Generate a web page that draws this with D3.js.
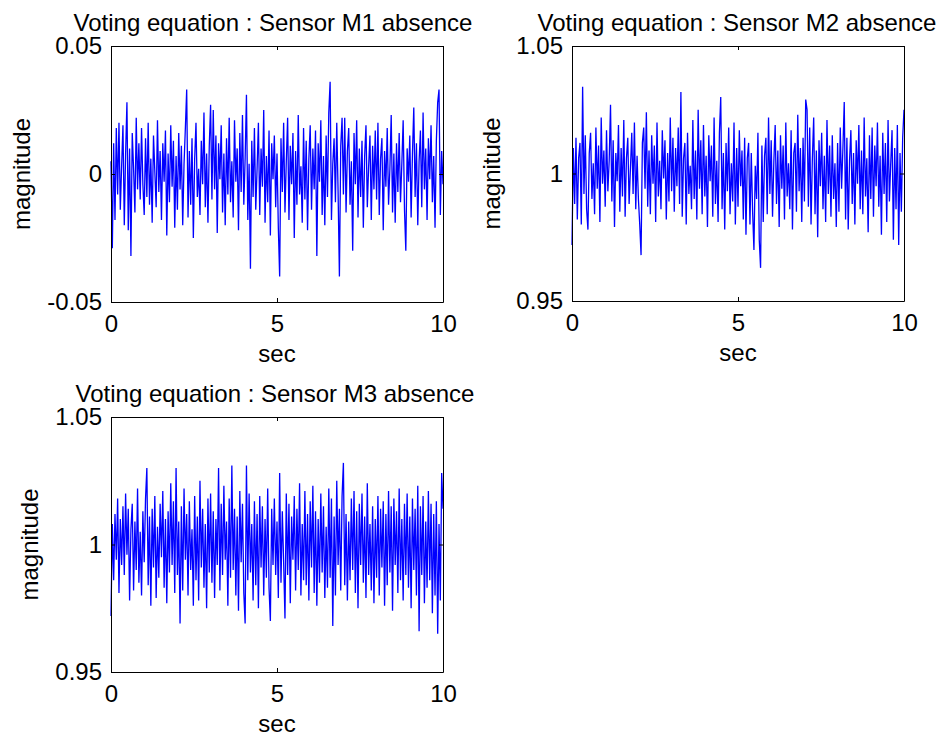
<!DOCTYPE html>
<html>
<head>
<meta charset="utf-8">
<script src="https://cdn.jsdelivr.net/npm/d3@7"></script>
<style>
body { margin: 0; background: #fff; }
svg text { font-family: "Liberation Sans", Arial, sans-serif; fill: #000; }
</style>
</head>
<body>
<div id="chart"></div>
<script>

// sampling step of the three signals, in sec
const sampleTime = 0.04;

const m1Absence = [
  0.005, -0.029, 0.012, -0.018, 0.018, -0.008, 0.020, -0.014, 0.003, 0.019, -0.020, 0.008, 0.028, -0.022, 0.010, -0.032, 0.016, 0.002, -0.015, 0.022, -0.006, 0.012, -0.010, 0.018, -0.004,
  -0.016, 0.014, -0.009, 0.020, -0.012, 0.006, -0.019, 0.015, 0.001, -0.013, 0.021, -0.007, 0.009, -0.018, 0.012, -0.003, 0.017, -0.024, 0.008, -0.011, 0.019, -0.005, 0.013, -0.021, 0.007,
  -0.014, 0.016, -0.006, 0.011, -0.020, 0.004, 0.018, 0.033, -0.017, 0.009, -0.012, 0.014, -0.025, 0.006, 0.020, -0.009, 0.002, -0.016, 0.013, -0.004, 0.024, -0.013, 0.008, -0.019, 0.011,
  0.027, -0.010, 0.025, -0.006, 0.015, -0.023, 0.012, -0.002, 0.019, -0.015, 0.008, -0.020, 0.014, -0.008, 0.022, -0.011, 0.005, -0.017, 0.021, -0.003, 0.010, -0.022, 0.016, -0.007, 0.023,
  -0.012, 0.006, 0.031, -0.018, 0.004, -0.037, 0.013, -0.009, 0.018, -0.014, 0.002, 0.020, -0.016, 0.010, -0.005, 0.025, -0.019, 0.007, -0.011, 0.017, -0.024, 0.012, -0.002, 0.015, -0.013,
  0.008, -0.021, -0.040, 0.014, -0.007, 0.020, -0.015, 0.005, 0.022, -0.018, 0.011, -0.004, 0.016, -0.025, 0.009, -0.012, 0.023, -0.008, 0.003, -0.019, 0.018, -0.010, 0.013, -0.022, 0.006,
  0.019, -0.014, 0.010, -0.006, 0.017, -0.032, 0.012, -0.003, 0.021, -0.016, 0.007, -0.020, 0.015, -0.009, 0.024, 0.036, -0.018, 0.004, 0.014, -0.011, 0.020, -0.007, -0.040, 0.011, 0.022,
  -0.008, 0.022, -0.015, 0.009, 0.018, -0.012, 0.005, -0.030, 0.016, -0.004, 0.021, -0.017, 0.010, -0.009, 0.013, -0.021, 0.007, 0.019, -0.013, 0.003, 0.015, -0.018, 0.011, -0.006, 0.017,
  -0.010, 0.020, -0.016, 0.006, 0.014, -0.022, 0.009, -0.005, 0.018, -0.012, 0.002, 0.023, -0.015, 0.008, -0.019, 0.012, -0.007, 0.016, -0.011, 0.004, 0.021, -0.014, -0.030, 0.010, -0.003,
  0.015, -0.017, 0.008, 0.026, -0.009, 0.012, -0.020, 0.005, 0.017, -0.013, 0.024, -0.006, 0.010, -0.018, 0.014, -0.002, 0.019, -0.011, 0.007, -0.021, 0.013, 0.028, 0.033, -0.016, 0.009,
  -0.004
];

const m2Absence = [
  0.972, 1.010, 0.988, 1.014, 0.982, 1.006, 1.012, 0.980, 1.034, 0.992, 1.015, 0.986, 0.978, 1.008, 1.016, 0.990, 1.004, 0.984, 1.018, 0.994, 1.011, 0.981, 1.022, 0.996, 1.009,
  0.987, 1.017, 0.993, 1.005, 1.027, 0.989, 1.013, 0.979, 1.008, 0.997, 1.019, 0.985, 1.010, 0.991, 1.021, 0.983, 1.006, 1.014, 0.988, 1.002, 1.016, 0.992, 1.020, 0.986, 1.007,
  0.990, 0.980, 0.968, 1.012, 1.018, 0.994, 1.024, 0.987, 1.009, 0.984, 1.015, 0.996, 1.011, 0.981, 1.020, 0.991, 1.005, 0.986, 1.017, 0.998, 1.013, 0.982, 1.008, 0.989, 1.022,
  0.993, 1.014, 0.985, 1.010, 0.995, 1.018, 0.988, 1.032, 0.983, 1.006, 1.012, 0.980, 1.016, 0.992, 1.003, 0.986, 1.021, 0.990, 1.009, 0.982, 1.025, 0.994, 1.013, 0.984, 1.019,
  0.991, 1.007, 0.979, 1.015, 0.997, 1.011, 0.983, 1.022, 0.988, 1.005, 0.981, 1.016, 1.030, 0.986, 1.008, 0.978, 1.012, 0.993, 1.018, 0.984, 1.004, 0.989, 1.020, 0.980, 1.010,
  0.987, 1.017, 0.995, 1.009, 0.982, 1.014, 0.976, 1.006, 1.012, 0.980, 1.008, 0.985, 0.970, 1.003, 0.990, 1.016, 0.974, 0.963, 1.011, 0.981, 1.007, 1.014, 0.984, 1.022, 0.992,
  1.013, 0.983, 1.005, 1.019, 0.988, 1.009, 0.979, 1.015, 0.994, 1.011, 0.982, 1.020, 0.991, 1.004, 0.986, 1.017, 0.978, 1.008, 1.012, 0.985, 1.023, 0.993, 1.010, 0.981, 1.014,
  0.989, 1.029, 1.025, 0.987, 1.018, 0.980, 1.006, 1.022, 0.984, 1.009, 0.975, 1.013, 0.995, 1.016, 0.986, 1.007, 0.981, 1.021, 0.992, 1.011, 0.983, 1.015, 0.990, 1.004, 0.979,
  1.012, 0.985, 1.018, 0.994, 1.010, 1.028, 0.982, 1.014, 0.978, 1.005, 1.017, 0.988, 1.008, 0.980, 1.013, 0.996, 1.019, 0.986, 1.009, 0.984, 1.022, 0.991, 1.006, 0.977, 1.015,
  0.990, 1.018, 0.983, 1.011, 0.995, 1.020, 0.987, 1.007, 0.976, 1.016, 0.992, 1.012, 0.981, 1.021, 0.989, 1.004, 1.017, 0.974, 1.010, 0.986, 1.019, 0.972, 1.008, 0.985, 1.014,
  1.025
];

const m3Absence = [
  0.972, 1.008, 0.986, 1.012, 0.994, 1.018, 0.981, 1.010, 0.992, 1.015, 0.988, 1.020, 0.996, 1.014, 0.978, 1.006, 1.016, 0.982, 1.009, 0.990, 1.022, 0.985, 1.005, 0.980, 1.013,
  0.993, 1.018, 1.030, 0.984, 1.011, 0.976, 1.014, 0.991, 1.019, 0.979, 1.007, 0.987, 1.016, 0.995, 1.021, 0.983, 1.010, 0.977, 1.013, 0.989, 1.024, 0.992, 1.017, 0.981, 1.030,
  0.988, 1.009, 0.969, 1.015, 0.982, 1.022, 0.994, 1.012, 0.980, 1.017, 0.990, 1.006, 0.976, 1.019, 0.986, 1.011, 0.978, 1.025, 0.991, 1.014, 0.983, 1.008, 0.975, 1.018, 0.989,
  1.020, 0.985, 1.013, 0.979, 1.010, 0.992, 1.030, 0.982, 1.016, 0.988, 1.023, 0.994, 1.009, 0.976, 1.018, 0.987, 1.031, 0.990, 1.014, 0.980, 1.011, 0.974, 1.021, 0.993, 1.016,
  0.981, 0.969, 1.031, 0.986, 1.020, 0.989, 1.008, 0.978, 1.017, 0.984, 1.012, 0.975, 1.019, 0.991, 1.015, 0.980, 1.010, 0.987, 1.022, 0.983, 0.970, 1.014, 0.992, 1.018, 0.988,
  1.009, 0.979, 1.028, 0.985, 1.013, 0.993, 0.971, 1.020, 0.988, 1.016, 0.977, 1.011, 0.994, 1.019, 0.982, 1.014, 0.990, 1.024, 0.980, 1.008, 0.986, 1.021, 0.984, 1.012, 0.978,
  1.017, 0.991, 1.023, 0.981, 1.013, 0.976, 1.010, 0.985, 1.020, 0.989, 1.015, 0.979, 1.007, 0.983, 1.022, 0.987, 1.018, 0.968, 1.011, 0.980, 1.025, 0.992, 1.014, 0.982, 1.019,
  1.032, 0.984, 1.012, 0.978, 1.009, 0.986, 1.018, 0.990, 1.021, 0.981, 1.013, 0.975, 1.016, 0.992, 1.020, 0.985, 1.011, 0.979, 1.024, 0.988, 1.008, 0.982, 1.015, 0.977, 1.010,
  0.987, 1.019, 0.980, 1.014, 0.991, 1.017, 0.976, 1.012, 0.984, 1.021, 0.989, 1.015, 0.974, 1.018, 0.992, 1.013, 0.981, 1.022, 0.986, 1.010, 0.978, 1.016, 0.988, 1.020, 0.983,
  1.011, 0.975, 1.018, 0.990, 1.014, 0.980, 1.023, 0.966, 1.015, 0.988, 1.019, 0.977, 1.009, 0.983, 1.021, 0.986, 1.016, 0.973, 1.012, 0.980, 1.017, 0.965, 1.008, 0.978, 1.028,
  1.014
];

const titles = [
  "Voting equation : Sensor M1 absence",
  "Voting equation : Sensor M2 absence",
  "Voting equation : Sensor M3 absence"
];
const xLabel = "sec";
const yLabel = "magnitude";
const xTicks = [0, 5, 10];
const yTicksM1 = [-0.05, 0, 0.05];
const yTickLabelsM1 = ["-0.05", "0", "0.05"];
const yTicksM23 = [0.95, 1, 1.05];
const yTickLabelsM23 = ["0.95", "1", "1.05"];


const width = 945, height = 740;
const fontSize = 24;
const tickLen = 4;

const svg = d3.select("#chart")
    .append("svg")
    .attr("width", width)
    .attr("height", height);

// layout of the three panels (MATLAB subplot 2x2, last one empty)
const panels = [
    { left: 111, top: 46, w: 332, h: 256, values: m1Absence, title: titles[0], yTicks: yTicksM1, yLabels: yTickLabelsM1, yLabelX: -81, titleX: -4 },
    { left: 572, top: 46, w: 332, h: 255, values: m2Absence, title: titles[1], yTicks: yTicksM23, yLabels: yTickLabelsM23, yLabelX: -72, titleX: -1 },
    { left: 111, top: 417, w: 332, h: 255, values: m3Absence, title: titles[2], yTicks: yTicksM23, yLabels: yTickLabelsM23, yLabelX: -73, titleX: -2 }
];

function drawPanel(p) {
    const x = d3.scaleLinear()
        .domain([xTicks[0], xTicks[xTicks.length - 1]])
        .range([p.left, p.left + p.w]);
    const y = d3.scaleLinear()
        .domain([p.yTicks[0], p.yTicks[p.yTicks.length - 1]])
        .range([p.top + p.h, p.top]);

    const line = d3.line()
        .x((d, i) => x(i * sampleTime))
        .y(d => y(d));

    svg.append("path")
        .datum(p.values)
        .attr("d", line)
        .style("fill", "none")
        .style("stroke", "#0000ff")
        .style("stroke-width", 1.3)
        .style("stroke-linejoin", "miter");

    // bottom axis with labels, ticks pointing inward
    svg.append("g")
        .attr("transform", "translate(0," + (p.top + p.h) + ")")
        .call(d3.axisBottom(x).tickValues(xTicks).tickSize(-tickLen).tickSizeOuter(0).tickPadding(13).tickFormat(d3.format("d")))
        .attr("font-size", fontSize)
        .attr("font-family", null);

    svg.append("g")
        .attr("transform", "translate(0," + p.top + ")")
        .call(d3.axisTop(x).tickValues(xTicks).tickSize(-tickLen).tickSizeOuter(0).tickFormat(""));

    svg.append("g")
        .attr("transform", "translate(" + p.left + ",0)")
        .call(d3.axisLeft(y).tickValues(p.yTicks).tickSize(-tickLen).tickSizeOuter(0).tickPadding(9)
            .tickFormat((d, i) => p.yLabels[i]))
        .attr("font-size", fontSize)
        .attr("font-family", null);

    svg.append("g")
        .attr("transform", "translate(" + (p.left + p.w) + ",0)")
        .call(d3.axisRight(y).tickValues(p.yTicks).tickSize(-tickLen).tickSizeOuter(0).tickFormat(""));

    svg.append("text")
        .attr("x", p.left + p.w / 2 + p.titleX)
        .attr("y", p.top - 15)
        .attr("text-anchor", "middle")
        .style("font-size", fontSize + "px")
        .text(p.title);

    svg.append("text")
        .attr("x", p.left + p.w / 2)
        .attr("y", p.top + p.h + 60)
        .attr("text-anchor", "middle")
        .style("font-size", fontSize + "px")
        .text(xLabel);

    svg.append("text")
        .attr("transform", "translate(" + (p.left + p.yLabelX) + "," + (p.top + p.h / 2) + ") rotate(-90)")
        .attr("text-anchor", "middle")
        .style("font-size", fontSize + "px")
        .text(yLabel);
}

panels.forEach(drawPanel);

</script>
</body>
</html>
